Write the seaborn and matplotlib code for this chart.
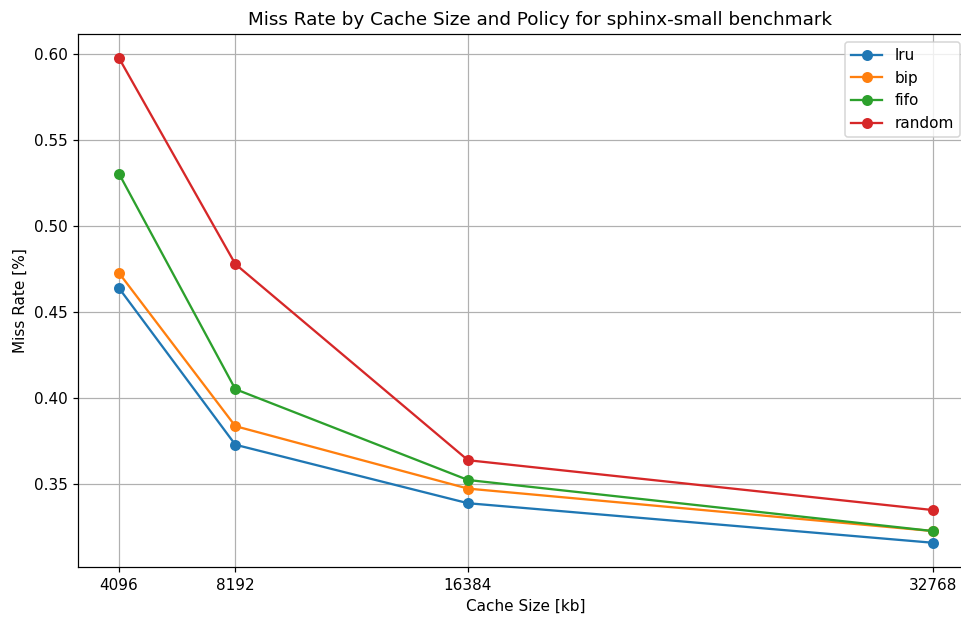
import matplotlib
matplotlib.use("Agg")
import matplotlib.pyplot as plt
import seaborn as sns

# Cache sizes and miss rates
cache_sizes = [4096, 8192, 16384, 32768]
lru = [0.464, 0.373, 0.339, 0.316]
bip = [0.4728, 0.3838, 0.3475, 0.3228]
fifo = [0.5305, 0.4053, 0.3525, 0.3228]
random_ = [0.5977, 0.478, 0.364, 0.335]

policies = {"lru": lru, "bip": bip, "fifo": fifo, "random": random_}
colors = ["#1f77b4", "#ff7f0e", "#2ca02c", "#d62728"]

fig = plt.figure(figsize=(961 / 110, 617 / 110), dpi=110)
ax = fig.add_axes([0.0815, 0.081, 0.932, 0.864])

for (name, vals), c in zip(policies.items(), colors):
    sns.lineplot(x=cache_sizes, y=vals, ax=ax, label=name, color=c,
                 marker="o", markersize=7.2, markeredgewidth=0, linewidth=1.5)

ax.set_xticks(cache_sizes)
ax.set_xticklabels([str(s) for s in cache_sizes])
ax.set_xlabel("Cache Size [kb]")
ax.set_ylabel("Miss Rate [%]")
ax.set_title("Miss Rate by Cache Size and Policy for sphinx-small benchmark", x=0.516)
ax.grid(True)
ax.legend(loc="upper right", bbox_to_anchor=(0.984, 0.985), borderaxespad=0)

fig.savefig("out.png", dpi=110)
